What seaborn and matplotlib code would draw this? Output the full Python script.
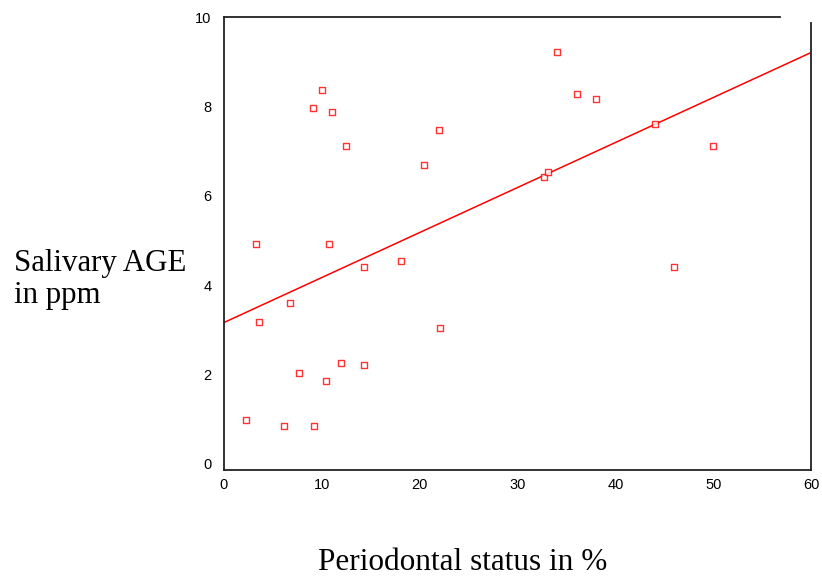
import matplotlib
matplotlib.use("Agg")
import matplotlib.pyplot as plt
import seaborn as sns
import numpy as np
import pandas as pd

periodontal = [2.22, 6.13, 9.23, 3.24, 3.58, 6.78, 7.70, 9.10, 9.99, 11.07, 12.44, 10.73,
               10.46, 11.99, 14.28, 14.28, 18.09, 20.41, 21.98, 22.11, 32.68, 33.15,
               34.07, 36.08, 38.06, 44.06, 46.03, 49.98]
salivary_age = [0.99, 0.86, 0.86, 4.92, 3.18, 3.61, 2.03, 7.98, 8.38, 7.87, 7.13, 4.92,
                1.86, 2.27, 2.21, 4.41, 4.55, 6.70, 7.48, 3.04, 6.43, 6.54,
                9.22, 8.28, 8.18, 7.61, 4.42, 7.13]
x_ticks = [0, 10, 20, 30, 40, 50, 60]
y_ticks = [0, 2, 4, 6, 8, 10]
y_label_lines = ["Salivary AGE", "in ppm"]
x_label = "Periodontal status in %"

df = pd.DataFrame({"x": periodontal, "y": salivary_age})

sns.set_style("white")
plt.rcParams['font.family'] = ['Liberation Sans', 'DejaVu Sans']

fig = plt.figure(figsize=(8.22, 5.78), dpi=100)
ax = fig.add_axes([0.2725, 0.187, 0.9866 - 0.2725, 0.970 - 0.187])
ax.set_xlim(0, 60)
ax.set_ylim(-0.134, 10)

sns.regplot(data=df, x="x", y="y", ax=ax, ci=None, truncate=False,
            marker="s",
            scatter_kws=dict(s=25, facecolors="white", edgecolors="red", linewidths=1.0, zorder=3),
            line_kws=dict(color="red", lw=1.1, zorder=2))

ax.set_xlim(0, 60)
ax.set_ylim(-0.134, 10)
ax.set_xticks(x_ticks)
ax.set_yticks(y_ticks)
ax.set_xticklabels([str(v) for v in x_ticks])
ax.set_yticklabels([str(v) for v in y_ticks])
ax.tick_params(axis="both", length=0, labelsize=10.5, colors="black")
ax.tick_params(axis="y", pad=9)
ax.tick_params(axis="x", pad=6)
ax.set_xlabel("")
ax.set_ylabel("")

for s in ["left", "bottom", "top", "right"]:
    ax.spines[s].set_visible(True)
    ax.spines[s].set_color("#222222")
    ax.spines[s].set_linewidth(1.3)
ax.spines["top"].set_bounds(0, 56.8)
ax.spines["right"].set_bounds(-0.134, 9.87)

fig.text(463 / 822, 1 - 562 / 578, x_label, family="Liberation Serif",
         fontsize=22.5, ha="center", va="center", color="black")
fig.text(14 / 822, 1 - 271 / 578, y_label_lines[0], family="Liberation Serif",
         fontsize=22.2, ha="left", va="baseline", color="black")
fig.text(14 / 822, 1 - 303.5 / 578, y_label_lines[1], family="Liberation Serif",
         fontsize=22.2, ha="left", va="baseline", color="black")

fig.savefig("out.png", dpi=100)
